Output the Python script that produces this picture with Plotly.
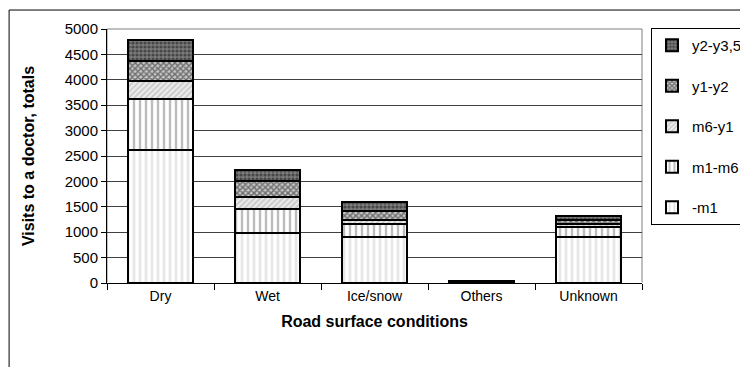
import plotly.graph_objects as go

categories = ["Dry", "Wet", "Ice/snow", "Others", "Unknown"]
series_names = ["-m1", "m1-m6", "m6-y1", "y1-y2", "y2-y3,5"]
v_m1 = [2625, 975, 900, 20, 909]
v_m1_m6 = [998, 486, 270, 10, 191]
v_m6_y1 = [346, 228, 80, 5, 60]
v_y1_y2 = [394, 314, 163, 5, 80]
v_y2_y35 = [413, 217, 177, 5, 70]
y_ticks = [0, 500, 1000, 1500, 2000, 2500, 3000, 3500, 4000, 4500, 5000]

series_values = [v_m1, v_m1_m6, v_m6_y1, v_y1_y2, v_y2_y35]
patterns = [
    dict(shape="|", fgcolor="#cfcfcf", bgcolor="white", size=6, solidity=0.45),
    dict(shape="|", fgcolor="#7a7a7a", bgcolor="white", size=6, solidity=0.4),
    dict(shape="/", fgcolor="#a8a8a8", bgcolor="#f0f0f0", size=4, solidity=0.55),
    dict(shape="x", fgcolor="#111111", bgcolor="#c8c8c8", size=4, solidity=0.6),
    dict(shape=".", fgcolor="#111111", bgcolor="#7a7a7a", size=4, solidity=0.5),
]

FONT = "Liberation Sans, Arial, sans-serif"
W, H = 740, 359  # page body has an 8px margin; figure sits at (8, 8)
fig = go.Figure()
n = len(series_names)
for i, (name, vals, pat) in enumerate(zip(series_names, series_values, patterns)):
    fig.add_trace(go.Bar(
        x=categories, y=vals, name=name, legendgroup=name, legendrank=n - i,
        marker=dict(color="white", pattern=pat, line=dict(color="black", width=2)),
    ))

fig.update_layout(
    width=W, height=H,
    barmode="stack", bargap=0.4,
    paper_bgcolor="white", plot_bgcolor="white",
    margin=dict(l=99, r=106, t=21, b=83.5, autoexpand=False),
    font=dict(family=FONT, size=15, color="black"),
    showlegend=True,
    legend=dict(
        xref="container", yref="container",
        x=(651 - 8) / W, y=1 - (28 - 8) / H, xanchor="left", yanchor="top",
        traceorder="grouped", tracegroupgap=18, itemwidth=30,
        maxheight=300,
        bordercolor="black", borderwidth=1,
        font=dict(family=FONT, size=15),
        bgcolor="white",
    ),
    xaxis=dict(
        type="category", tickson="boundaries", automargin=False,
        ticks="outside", ticklen=6, tickcolor="black",
        showline=True, linecolor="black", linewidth=1,
        tickfont=dict(family=FONT, size=14),
        title=dict(text="<b>Road surface conditions</b>", font=dict(family=FONT, size=16), standoff=13),
    ),
    yaxis=dict(
        range=[0, 5000], tickvals=y_ticks, automargin=False,
        ticks="outside", ticklen=5, tickcolor="black",
        showline=True, linecolor="black", linewidth=1,
        showgrid=True, gridcolor="#404040", gridwidth=1,
        tickfont=dict(family=FONT, size=15),
        title=dict(text="<b>Visits to a doctor, totals</b>", font=dict(family=FONT, size=16), standoff=26),
    ),
    shapes=[
        dict(type="rect", xref="paper", yref="paper", x0=0, x1=1, y0=0, y1=1,
             line=dict(color="#808080", width=1), layer="below"),
        dict(type="rect", xref="paper", yref="paper", x0=-0.183, x1=1.25, y0=-0.4, y1=1.0747,
             line=dict(color="black", width=1)),
    ],
)

fig.write_html("out.html")
